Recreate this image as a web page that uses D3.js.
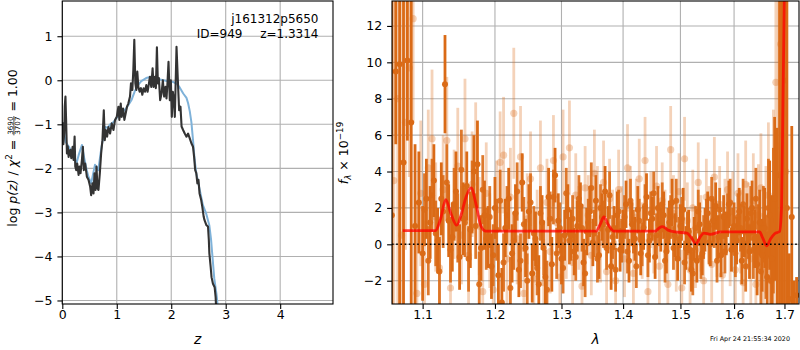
<!DOCTYPE html>
<html><head><meta charset="utf-8">
<script src="https://cdnjs.cloudflare.com/ajax/libs/d3/7.8.5/d3.min.js"></script>
<style>
html,body{margin:0;padding:0;background:#fff;}
svg{display:block;}
text{font-family:"DejaVu Sans",Verdana,sans-serif;fill:#000;}
</style></head><body>
<svg id="chart" width="800" height="350"></svg>
<script>
// ---------- left panel: log p(z) ----------
const zBlack=[0.005,0.02,0.035,0.045,0.058,0.07,0.085,0.10,0.116,0.13,
0.146,0.165,0.189,0.207,0.226,0.238,0.256,0.274,0.299,0.317,
0.335,0.36,0.378,0.396,0.42,0.451,0.481,0.512,0.53,0.554,
0.573,0.591,0.61,0.628,0.646,0.664,0.689,0.713,0.737,0.762,
0.78,0.798,0.823,0.847,0.877,0.908,0.939,0.969,1.0,1.03,
1.048,1.073,1.09,1.115,1.14,1.164,1.188,1.212,1.243,1.261,
1.286,1.304,1.322,1.341,1.359,1.377,1.396,1.42,1.444,1.469,
1.493,1.518,1.542,1.566,1.591,1.609,1.633,1.658,1.676,1.70,
1.718,1.737,1.755,1.773,1.797,1.822,1.846,1.87,1.895,1.913,
1.931,1.95,1.974,1.993,2.011,2.029,2.05,2.066,2.097,2.126,
2.145,2.17,2.19,2.218,2.248,2.28,2.31,2.34,2.37,2.40,
2.42,2.44,2.46,2.48,2.50,2.52,2.55,2.57,2.596,2.61,
2.645,2.675,2.69,2.70,2.724,2.74,2.766,2.797,2.815,2.83];
const lnpBlack=[-0.95,-1.45,-1.2,-0.6,-0.37,-0.9,-1.66,-1.5,-1.74,-1.62,
-1.58,-1.77,-1.51,-1.81,-1.28,-1.96,-2.04,-1.89,-2.15,-1.96,
-2.11,-1.81,-1.51,-2.04,-1.89,-2.19,-2.26,-2.42,-2.61,-2.34,
-2.57,-2.11,-2.49,-1.96,-2.45,-2.49,-2.11,-1.66,-1.36,-0.68,
-1.36,-1.13,-1.28,-1.06,-1.21,-0.98,-1.13,-0.90,-0.83,-0.60,
-0.90,-0.53,-0.83,-0.64,-0.90,-0.75,-0.60,-0.53,-0.37,-0.07,
-0.22,0.23,0.92,-0.07,-0.22,0.20,-0.15,-0.26,-0.18,-0.33,
-0.18,-0.26,-0.11,-0.26,-0.07,0.08,-0.15,0.27,-0.15,0.08,
-0.18,0.75,-0.07,0.05,-0.45,-0.30,0.0,-0.37,-0.15,-0.41,
-0.07,0.42,-0.45,0.0,-0.83,-0.26,-0.45,-0.83,0.76,-0.14,
-0.68,-0.60,-1.05,-1.13,-1.21,-1.28,-1.21,-1.32,-1.43,-1.51,
-1.74,-2.04,-2.11,-2.34,-2.26,-2.57,-2.72,-2.87,-3.1,-3.17,
-3.29,-3.32,-3.62,-3.93,-4.24,-4.47,-4.62,-4.7,-4.92,-5.3];
const zBlue=[0.0,0.02,0.06,0.10,0.14,0.18,0.22,0.26,0.30,0.36,
0.40,0.45,0.48,0.53,0.57,0.60,0.66,0.72,0.79,0.83,
0.88,0.94,1.0,1.08,1.16,1.22,1.27,1.33,1.39,1.45,
1.54,1.63,1.72,1.82,1.94,2.04,2.10,2.15,2.22,2.28,
2.31,2.34,2.37,2.40,2.43,2.46,2.52,2.58,2.64,2.70,
2.73,2.76,2.79,2.83,2.86];
const lnpBlue=[-0.95,-1.06,-1.4,-1.47,-1.55,-1.62,-1.75,-1.89,-1.7,-1.47,
-1.75,-2.05,-2.19,-2.34,-2.1,-1.92,-2.04,-1.51,-1.06,-1.08,
-1.0,-0.95,-0.85,-0.75,-0.66,-0.55,-0.45,-0.25,-0.11,-0.02,
0.05,0.08,0.05,0.01,-0.02,-0.04,-0.08,-0.15,-0.3,-0.4,
-0.52,-0.7,-0.95,-1.36,-1.81,-2.11,-2.47,-2.83,-3.02,-3.3,
-3.6,-4.05,-4.5,-4.85,-5.2];
const zTicks=[0,1,2,3,4];
const lnpTicks=[-5,-4,-3,-2,-1,0,1];

// ---------- right panel: spectrum ----------
const lamDark=[1.060,1.065,1.070,1.075,1.080,1.085,1.090,1.095,1.100,1.105,
1.110,1.115,1.120,1.125,1.130,1.135,1.140,1.145,1.150,1.155,
1.160,1.165,1.170,1.175,1.180,1.185,1.190,1.195,1.200,1.205,
1.210,1.215,1.220,1.225,1.230,1.235,1.240,1.245,1.250,1.255,
1.260,1.265,1.270,1.275,1.280,1.285,1.290,1.295,1.300,1.305,
1.310,1.315,1.320,1.325,1.330,1.335,1.340,1.345,1.350,1.355,
1.360,1.365,1.370,1.375,1.380,1.385,1.390,1.395,1.400,1.405,
1.410,1.415,1.420,1.425,1.430,1.435,1.440,1.445,1.450,1.455,
1.460,1.465,1.470,1.475,1.480,1.485,1.490,1.495,1.500,1.505,
1.510,1.515,1.520,1.525,1.530,1.535,1.540,1.545,1.550,1.555,
1.560,1.565,1.570,1.575,1.580,1.585,1.590,1.595,1.600,1.605,
1.610,1.615,1.620,1.625,1.630,1.635,1.640,1.645,1.650,1.655,
1.660,1.665,1.670,1.675,1.680,1.685,1.690,1.695,1.700,1.705,
1.710,1.715,1.720,1.725];
const fluxDark=[1.6,9.5,9.9,4.5,10.1,6.7,1.0,2.3,-0.5,2.5,
1.2,3.5,0.2,2.5,8.8,1.3,0.4,2.9,-0.7,1.4,
3.2,0.8,4.0,4.4,-0.2,1.6,0.4,-1.2,2.0,-1.7,
-3.2,0.9,2.5,-0.5,1.7,-1.4,3.4,-0.2,1.8,-1.6,
0.3,-2.2,1.2,-1.8,2.6,-1.1,3.8,1.3,-0.8,0.5,
1.9,0.5,-0.4,1.0,2.1,-1.0,0.7,1.8,0.1,2.4,
-0.6,1.5,2.9,0.8,-1.2,0.9,1.6,-0.3,0.7,2.2,
-0.9,1.1,0.3,1.9,-0.5,0.9,2.6,0.2,1.4,-0.7,
2.0,0.8,1.6,-0.4,1.2,2.3,0.5,-0.8,1.0,1.9,
-0.2,0.7,-1.4,0.3,-0.9,1.1,-0.5,0.8,1.7,0.0,
1.3,2.1,0.4,-0.6,1.5,0.6,2.2,-0.3,1.0,0.2,
1.8,-0.9,0.7,1.4,-0.4,2.0,0.3,-1.1,1.2,-0.6,
0.9,-1.8,1.6,-0.8,2.5,0.4,3.8,6.0,9.0,2.0,
-3.0,1.5,-3.5,-2.8];
const errDark=[18,4.0,18,18,4.4,18,4.5,2.8,2.6,2.2,
2.0,2.0,1.8,2.0,2.7,2.0,1.9,2.2,1.8,2.0,
1.9,2.1,2.0,2.4,1.8,1.9,1.7,1.8,1.7,1.7,
1.9,1.6,1.7,1.6,1.6,1.5,1.6,1.6,1.5,1.6,
1.5,1.6,1.5,1.5,1.6,1.5,1.5,1.5,1.4,1.4,
1.4,1.4,1.3,1.4,1.3,1.3,1.3,1.4,1.3,1.4,
1.3,1.3,1.4,1.3,1.3,1.2,1.3,1.2,1.2,1.3,
1.2,1.2,1.2,1.3,1.2,1.2,1.3,1.2,1.2,1.2,
1.2,1.2,1.3,1.2,1.2,1.3,1.2,1.2,1.2,1.2,
1.2,1.2,1.2,1.2,1.2,1.2,1.2,1.2,1.2,1.2,
1.2,1.3,1.2,1.2,1.2,1.2,1.3,1.2,1.3,1.3,
1.3,1.3,1.4,1.4,1.5,1.5,1.6,1.7,1.8,2.0,
2.2,2.5,3.0,3.5,4.5,6.0,18,18,18,18,
2.5,5.0,1.5,1.0];
const lamDark2=[1.1025,1.1075,1.1125,1.1175,1.1225,1.1275,1.1325,1.1375,1.1425,1.1475,
1.1525,1.1575,1.1625,1.1675,1.1725,1.1775,1.1825,1.1875,1.1925,1.1975,
1.2025,1.2075,1.2125,1.2175,1.2225,1.2275,1.2325,1.2375,1.2425,1.2475,
1.2525,1.2575,1.2625,1.2675,1.2725,1.2775,1.2825,1.2875,1.2925,1.2975,
1.3025,1.3075,1.3125,1.3175,1.3225,1.3275,1.3325,1.3375,1.3425,1.3475,
1.3525,1.3575,1.3625,1.3675,1.3725,1.3775,1.3825,1.3875,1.3925,1.3975,
1.4025,1.4075,1.4125,1.4175,1.4225,1.4275,1.4325,1.4375,1.4425,1.4475,
1.4525,1.4575,1.4625,1.4675,1.4725,1.4775,1.4825,1.4875,1.4925,1.4975,
1.5025,1.5075,1.5125,1.5175,1.5225,1.5275,1.5325,1.5375,1.5425,1.5475,
1.5525,1.5575,1.5625,1.5675,1.5725,1.5775,1.5825,1.5875,1.5925,1.5975,
1.6025,1.6075,1.6125,1.6175,1.6225,1.6275,1.6325,1.6375,1.6425,1.6475,
1.6525,1.6575,1.6625,1.6675,1.6725,1.6775];
const fluxDark2=[1.9,-0.9,2.7,0.6,-1.5,1.8,3.4,-0.3,2.2,0.9,
4.1,1.2,-0.8,2.6,1.0,-2.2,3.0,0.3,1.5,-0.6,
0.8,2.4,-1.0,1.6,-2.4,0.2,2.9,-0.9,1.1,-2.0,
2.3,0.6,-1.3,1.7,-0.2,-2.5,1.4,2.6,-0.5,0.9,
-1.3,2.8,0.2,1.4,-0.7,2.5,0.9,-1.6,1.2,3.1,
0.6,-0.8,2.0,1.1,-0.2,2.7,0.4,-1.4,1.8,0.2,
1.5,-0.4,2.4,0.7,-1.2,1.3,0.0,2.1,-0.6,1.7,
2.8,0.5,1.1,2.2,-0.9,0.8,1.5,-0.2,2.4,0.3,
1.4,-1.0,0.6,-0.3,-1.6,0.9,1.8,-0.7,0.4,1.3,
0.1,2.5,1.0,-0.9,1.9,0.5,-0.4,1.6,2.3,0.8,
-0.5,1.5,0.9,2.2,-1.2,0.6,1.7,-0.3,2.5,0.4,
-1.5,1.1,-0.7,2.0,-2.0,1.3];
const errDark2=[2.0,1.9,2.0,1.8,1.9,2.0,2.1,1.8,2.0,1.9,
2.2,1.9,1.8,2.0,1.8,1.8,1.9,1.7,1.7,1.7,
1.7,1.7,1.6,1.6,1.7,1.6,1.6,1.5,1.5,1.5,
1.6,1.5,1.5,1.5,1.5,1.6,1.5,1.5,1.4,1.4,
1.4,1.4,1.3,1.3,1.3,1.3,1.3,1.3,1.3,1.4,
1.3,1.3,1.3,1.3,1.2,1.3,1.2,1.2,1.2,1.2,
1.2,1.2,1.2,1.2,1.2,1.2,1.2,1.2,1.2,1.2,
1.2,1.2,1.2,1.2,1.2,1.2,1.2,1.2,1.2,1.2,
1.2,1.2,1.2,1.2,1.2,1.2,1.2,1.2,1.2,1.2,
1.2,1.2,1.2,1.2,1.2,1.2,1.2,1.2,1.3,1.2,
1.3,1.3,1.3,1.4,1.4,1.4,1.5,1.6,1.7,1.8,
1.9,2.1,2.3,2.7,3.2,4.0];
const lamLight=[1.0625,1.0675,1.0725,1.0775,1.0825,1.0875,1.0925,1.0975,1.1025,1.1075,
1.1125,1.1175,1.1225,1.1275,1.1325,1.1375,1.1425,1.1475,1.1525,1.1575,
1.1625,1.1675,1.1725,1.1775,1.1825,1.1875,1.1925,1.1975,1.2025,1.2075,
1.2125,1.2175,1.2225,1.2275,1.2325,1.2375,1.2425,1.2475,1.2525,1.2575,
1.2625,1.2675,1.2725,1.2775,1.2825,1.2875,1.2925,1.2975,1.3025,1.3075,
1.3125,1.3175,1.3225,1.3275,1.3325,1.3375,1.3425,1.3475,1.3525,1.3575,
1.3625,1.3675,1.3725,1.3775,1.3825,1.3875,1.3925,1.3975,1.4025,1.4075,
1.4125,1.4175,1.4225,1.4275,1.4325,1.4375,1.4425,1.4475,1.4525,1.4575,
1.4625,1.4675,1.4725,1.4775,1.4825,1.4875,1.4925,1.4975,1.5025,1.5075,
1.5125,1.5175,1.5225,1.5275,1.5325,1.5375,1.5425,1.5475,1.5525,1.5575,
1.5625,1.5675,1.5725,1.5775,1.5825,1.5875,1.5925,1.5975,1.6025,1.6075,
1.6125,1.6175,1.6225,1.6275,1.6325,1.6375,1.6425,1.6475,1.6525,1.6575,
1.6625,1.6675,1.6725,1.6775,1.6825,1.6875,1.6925,1.6975,1.7025];
const fluxLight=[3.5,8.0,0.5,6.7,9.7,12.4,-2.7,2.8,-2.2,4.2,
5.8,1.5,-1.3,3.0,5.7,-2.4,2.2,4.3,0.5,5.8,
-0.6,3.3,4.3,1.0,-2.6,2.8,0.2,-2.5,1.9,4.5,
4.9,-0.8,2.6,7.2,0.3,4.8,-2.7,1.4,3.6,-1.9,
0.6,4.2,-2.1,2.3,-0.4,4.6,1.2,-1.8,4.8,0.4,
5.3,-1.0,2.7,0.9,-2.3,3.1,1.6,-0.6,3.9,2.0,
0.1,3.4,-1.5,2.5,0.8,-2.0,3.0,1.1,-0.8,4.2,
2.2,-1.6,1.5,3.6,0.2,4.6,-2.6,1.9,0.5,3.2,
-1.2,2.4,0.9,-2.2,5.2,1.7,-0.5,2.9,-2.4,4.7,
1.3,-1.4,2.0,-0.3,3.4,0.6,-2.0,2.6,1.1,-1.1,
3.7,0.3,2.2,-1.7,1.5,3.0,-0.2,1.8,-1.4,2.8,
0.7,-2.1,3.3,1.0,-0.8,2.4,-2.2,1.6,3.1,-1.5,
0.8,2.7,-2.0,1.9,8.9,5.4,11.0,7.2,4.0];
const errLight=[18,18,18,7,6,5.7,5,4.0,3.5,3.2,
3.8,3.0,2.8,3.0,3.5,2.8,3.0,3.2,2.7,3.3,
2.8,2.9,3.5,2.7,2.6,2.8,2.6,2.6,2.7,2.8,
3.2,2.6,2.7,3.6,2.5,2.8,2.5,2.5,2.6,2.5,
2.4,2.6,2.4,2.4,2.3,2.5,2.4,2.3,2.6,2.3,
2.6,2.3,2.3,2.3,2.2,2.3,2.2,2.2,2.4,2.3,
2.2,2.3,2.2,2.2,2.2,2.2,2.2,2.1,2.1,2.4,
2.1,2.1,2.1,2.2,2.1,2.4,2.1,2.1,2.1,2.2,
2.1,2.1,2.1,2.1,2.4,2.1,2.1,2.1,2.1,2.3,
2.1,2.1,2.1,2.1,2.2,2.1,2.1,2.1,2.1,2.1,
2.2,2.1,2.1,2.1,2.1,2.1,2.1,2.2,2.2,2.2,
2.3,2.3,2.4,2.4,2.5,2.6,2.7,2.8,3.0,3.2,
3.5,4.0,4.5,5.5,7,9,14,18,18];
const lamModel=[1.074,1.117,1.124,1.131,1.138,1.146,1.152,1.159,1.166,1.173,
1.180,1.187,1.355,1.362,1.368,1.375,1.385,1.455,1.462,1.468,
1.478,1.490,1.512,1.520,1.528,1.536,1.543,1.555,1.575,1.650,
1.656,1.664,1.672,1.680,1.690,1.694,1.697,1.700];
const fluxModel=[0.75,0.75,1.4,2.45,1.7,1.05,1.6,2.6,3.1,2.2,
1.0,0.72,0.72,1.1,1.5,1.1,0.72,0.72,0.9,0.97,
0.78,0.68,0.62,0.35,0.03,0.4,0.62,0.55,0.68,0.68,
0.35,-0.08,0.3,0.58,0.7,2.0,8,14];
const lamTicks=[1.1,1.2,1.3,1.4,1.5,1.6,1.7];
const fluxTicks=[-2,0,2,4,6,8,10,12];

const objName="j161312p5650", objId="ID=949", objZ="z=1.3314";
const stamp="Fri Apr 24 21:55:34 2020";

// ---------- drawing ----------
const svg=d3.select("#chart");
const PL={l:62.3,r:333,t:1,b:304};
const PR={l:392,r:799,t:1,b:304};
const xL=d3.scaleLinear().domain([0,4.97]).range([PL.l,PL.r]);
const yL=d3.scaleLinear().domain([-5.08,1.80]).range([PL.b,PL.t]);
const xR=d3.scaleLog().domain([1.0602,1.730]).range([PR.l,PR.r]);
const yR=d3.scaleLinear().domain([-3.28,13.37]).range([PR.b,PR.t]);
const ORANGE="#da6a16";

const defs=svg.append("defs");
function clip(id,P){defs.append("clipPath").attr("id",id).append("rect")
  .attr("x",P.l).attr("y",P.t).attr("width",P.r-P.l).attr("height",P.b-P.t);}
clip("cl",PL);clip("cr",PR);

function grid(P,x,y,xt,yt){
  const g=svg.append("g").attr("stroke","#b0b0b0").attr("stroke-width",1.1);
  g.selectAll("line.gx").data(xt).join("line").attr("class","gx")
    .attr("x1",d=>x(d)).attr("x2",d=>x(d)).attr("y1",P.t).attr("y2",P.b);
  g.selectAll("line.gy").data(yt).join("line").attr("class","gy")
    .attr("x1",P.l).attr("x2",P.r).attr("y1",d=>y(d)).attr("y2",d=>y(d));
}
function axes(P,x,y,xt,yt,xf,yf){
  const ax=svg.append("g").attr("transform",`translate(0,${P.b})`)
    .call(d3.axisBottom(x).tickValues(xt).tickFormat(xf).tickSize(4.9).tickPadding(0.8));
  const ay=svg.append("g").attr("transform",`translate(${P.l},0)`)
    .call(d3.axisLeft(y).tickValues(yt).tickFormat(yf).tickSize(4.9).tickPadding(4.9));
  [ax,ay].forEach(a=>{
    a.select(".domain").remove();
    a.selectAll("line").attr("stroke","#000").attr("stroke-width",1.1);
    a.selectAll("text").attr("font-family",'"DejaVu Sans",sans-serif').attr("font-size",12.5).attr("fill","#000");
  });
}
function frame(P){
  svg.append("rect").attr("x",P.l).attr("y",P.t).attr("width",P.r-P.l).attr("height",P.b-P.t)
    .attr("fill","none").attr("stroke","#000").attr("stroke-width",1.1);
}

// left panel
grid(PL,xL,yL,zTicks,lnpTicks);
const gL=svg.append("g").attr("clip-path","url(#cl)");
const blueData=zBlue.map((z,i)=>[z,lnpBlue[i]]);
const blackData=zBlack.map((z,i)=>[z,lnpBlack[i]]);
const lineL=d3.line().x(d=>xL(d[0])).y(d=>yL(d[1]));
gL.append("path").datum(blueData).attr("d",lineL).attr("fill","none")
  .attr("stroke","#7fb2d9").attr("stroke-width",2).attr("stroke-linejoin","round");
gL.append("path").datum(blackData).attr("d",lineL).attr("fill","none")
  .attr("stroke","#333333").attr("stroke-width",2.1).attr("stroke-linejoin","round");
axes(PL,xL,yL,zTicks,lnpTicks,d3.format("d"),d3.format("d"));
frame(PL);

svg.append("text").attr("x",318.5).attr("y",23).attr("text-anchor","end").attr("font-size",12).text(objName);
svg.append("text").attr("x",196.7).attr("y",38.3).attr("font-size",12).text(objId);
svg.append("text").attr("x",318.5).attr("y",38.3).attr("text-anchor","end").attr("font-size",12).text(objZ);

// right panel
grid(PR,xR,yR,lamTicks,fluxTicks);
const gR=svg.append("g").attr("clip-path","url(#cr)");
const light=lamLight.map((l,i)=>({l,f:fluxLight[i],e:errLight[i]}));
const dark=lamDark.map((l,i)=>({l,f:fluxDark[i],e:errDark[i]}));
const dark2=lamDark2.map((l,i)=>({l,f:fluxDark2[i],e:errDark2[i]}));
function errbars(g,data,op,r){
  g.append("g").selectAll("line").data(data).join("line")
    .attr("x1",d=>xR(d.l)).attr("x2",d=>xR(d.l))
    .attr("y1",d=>yR(d.f-d.e)).attr("y2",d=>yR(d.f+d.e))
    .attr("stroke",ORANGE).attr("stroke-opacity",op).attr("stroke-width",2.8);
  g.append("g").selectAll("circle").data(data).join("circle")
    .attr("cx",d=>xR(d.l)).attr("cy",d=>yR(d.f)).attr("r",r)
    .attr("fill",ORANGE).attr("fill-opacity",op);
}
errbars(gR,light,0.3,3.6);
errbars(gR,dark2,0.9,3);
errbars(gR,dark,1,3);
const modelData=lamModel.map((l,i)=>[l,fluxModel[i]]);
gR.append("path").datum(modelData)
  .attr("d",d3.line().x(d=>xR(d[0])).y(d=>yR(d[1])).curve(d3.curveMonotoneX))
  .attr("fill","none").attr("stroke","#ff0000").attr("stroke-opacity",0.75)
  .attr("stroke-width",2.8).attr("stroke-linejoin","round");
gR.append("line").attr("x1",PR.l).attr("x2",PR.r).attr("y1",yR(0)).attr("y2",yR(0))
  .attr("stroke","#000").attr("stroke-width",1.6).attr("stroke-dasharray","1.6,2.6");
axes(PR,xR,yR,lamTicks,fluxTicks,d3.format(".1f"),d3.format("d"));
frame(PR);

// axis labels
svg.append("text").attr("x",(PL.l+PL.r)/2).attr("y",344).attr("text-anchor","middle")
  .attr("font-size",13.9).attr("font-style","italic").text("z");
svg.append("text").attr("x",(PR.l+PR.r)/2).attr("y",344).attr("text-anchor","middle")
  .attr("font-size",13.9).attr("font-style","italic").text("λ");

function rich(x,y,parts){
  const outer=svg.append("g").attr("transform",`translate(${x},${y}) rotate(-90)`);
  const g=outer.append("g");
  let u=0;
  parts.forEach(p=>{
    if(p.frac){
      const tn=g.append("text").attr("font-size",p.size).attr("text-anchor","middle").text(p.frac[0]);
      const td=g.append("text").attr("font-size",p.size).attr("text-anchor","middle").text(p.frac[1]);
      const w=Math.max(tn.node().getComputedTextLength(),td.node().getComputedTextLength())+2;
      tn.attr("x",u+w/2).attr("y",p.ny);
      td.attr("x",u+w/2).attr("y",p.dy);
      g.append("line").attr("x1",u+0.5).attr("x2",u+w-0.5).attr("y1",p.by).attr("y2",p.by)
        .attr("stroke","#000").attr("stroke-width",0.7);
      u+=w;
    } else {
      const t=g.append("text").attr("x",u).attr("y",p.dy||0).attr("font-size",p.size)
        .attr("font-style",p.it?"italic":null).text(p.t.replace(/ /g,"\u00a0"));
      u+=t.node().getComputedTextLength();
    }
  });
  g.attr("transform",`translate(${-u/2},0)`);
}
rich(17.3,148,[
  {t:"log ",size:12.5},{t:"p(z)",size:12.5,it:true},{t:" / ",size:12.5},{t:"χ",size:12.5,it:true},
  {t:"2",size:8.8,dy:-5},{t:" = ",size:12.5},
  {frac:["3690","3707"],size:7.2,ny:-4.6,dy:2.4,by:-3.4},
  {t:" = 1.00",size:12.5}
]);
rich(348,153,[
  {t:"f",size:12.5,it:true},{t:"λ",size:8.8,it:true,dy:2.6},{t:" × 10",size:12.5},{t:"−19",size:8.8,dy:-5.2}
]);

svg.append("text").attr("x",790).attr("y",341).attr("text-anchor","end").attr("font-size",6.4).text(stamp);
</script>
</body></html>
